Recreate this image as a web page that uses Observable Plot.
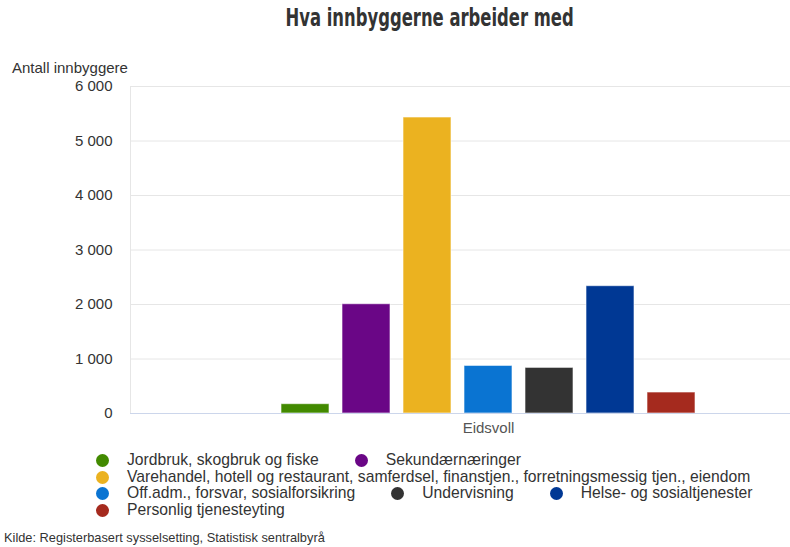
<!DOCTYPE html>
<html><head><meta charset="utf-8">
<script src="https://cdn.jsdelivr.net/npm/d3@7"></script>
<script src="https://cdn.jsdelivr.net/npm/@observablehq/plot@0.6"></script>
<style>
body{margin:0;background:#fff;font-family:"Liberation Sans",Arial,sans-serif;}
#wrap{position:relative;width:790px;height:547px;overflow:hidden;}
#title{position:absolute;left:0;width:860px;top:4px;text-align:center;}
#title span{display:inline-block;font-family:"DejaVu Sans Condensed","DejaVu Sans",sans-serif;font-weight:bold;font-size:24px;color:#333;transform:scaleX(0.76);transform-origin:center;}
#ylab{position:absolute;left:12px;top:61px;font-size:15px;line-height:13px;color:#333;}
#chart{position:absolute;left:0;top:0;}
#legend{position:absolute;left:96px;top:452px;width:694px;display:flex;flex-wrap:wrap;font-size:15.7px;color:#333;line-height:16.7px;}
.item{display:flex;align-items:center;margin-right:36px;white-space:nowrap;}
.dot{width:13px;height:13px;border-radius:50%;margin-right:18px;flex:none;}
#caption{position:absolute;left:4px;top:530px;font-size:12.8px;color:#333;}
</style></head>
<body><div id="wrap">
<div id="title"><span></span></div>
<div id="ylab"></div>
<div id="chart"></div>
<div id="legend"></div>
<div id="caption"></div>
</div>
<script>
const titleText = "Hva innbyggerne arbeider med";
const yLabel = "Antall innbyggere";
const groupLabel = "Eidsvoll";
const caption = "Kilde: Registerbasert sysselsetting, Statistisk sentralbyrå";
const categories = [
  "Jordbruk, skogbruk og fiske",
  "Sekundærnæringer",
  "Varehandel, hotell og restaurant, samferdsel, finanstjen., forretningsmessig tjen., eiendom",
  "Off.adm., forsvar, sosialforsikring",
  "Undervisning",
  "Helse- og sosialtjenester",
  "Personlig tjenesteyting"
];
const values = [171, 2005, 5431, 873, 837, 2336, 385];
const colors = ["#428a00", "#6a0686", "#ebb220", "#0a74d2", "#333333", "#003894", "#a52a1e"];
const yTicks = [0, 1000, 2000, 3000, 4000, 5000, 6000];

const data = categories.map((c, i) => ({category: c, value: values[i]}));
const fmt = d => d3.format(",")(d).replace(/,/g, " ");

document.querySelector("#title span").textContent = titleText;
document.getElementById("ylab").textContent = yLabel;
document.getElementById("caption").textContent = caption;

const plot = Plot.plot({
  width: 790,
  height: 440,
  marginTop: 86,
  marginBottom: 27,
  marginLeft: 130,
  marginRight: -56,
  style: {fontFamily: '"Liberation Sans", Arial, sans-serif', fontSize: "15px", color: "#333", background: "transparent"},
  x: {domain: categories, paddingInner: 0.21, paddingOuter: 2.457, axis: null},
  y: {domain: [0, 6000], ticks: yTicks, tickFormat: fmt, tickSize: 0, tickPadding: 18, label: null},
  color: {domain: categories, range: colors},
  marks: [
    Plot.frame({stroke: "#e6e6e6"}),
    Plot.ruleY(yTicks.filter(d => d > 0), {stroke: "#e6e6e6"}),
    Plot.barY(data, {x: "category", y: "value", fill: "category", stroke: "#ffffff", strokeOpacity: 0.6, strokeWidth: 1}),
    Plot.ruleY([0], {stroke: "#ccd6eb"}),
    Plot.text([groupLabel], {frameAnchor: "bottom", dy: 19, fill: "#555", fontSize: 15})
  ]
});
document.getElementById("chart").appendChild(plot);

const legend = document.getElementById("legend");
categories.forEach((c, i) => {
  const it = document.createElement("div");
  it.className = "item";
  const dot = document.createElement("span");
  dot.className = "dot";
  dot.style.background = colors[i];
  const t = document.createElement("span");
  t.textContent = c;
  it.appendChild(dot); it.appendChild(t);
  legend.appendChild(it);
});
</script>
</body></html>
